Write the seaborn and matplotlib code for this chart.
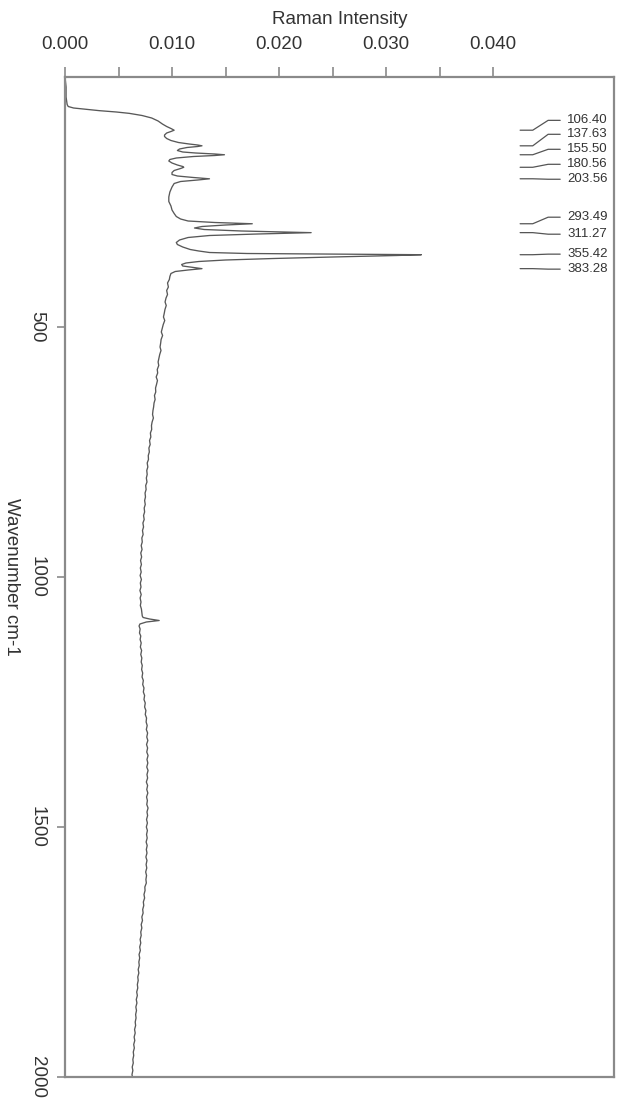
import numpy as np
import pandas as pd
import matplotlib
matplotlib.use("Agg")
import matplotlib.pyplot as plt
import matplotlib.transforms as mtransforms
from matplotlib.ticker import FixedLocator, FormatStrFormatter
import seaborn as sns

# Raman spectrum, lattice/peak region (cm-1, intensity)
wn_low = [
    0, 20, 40, 55, 59, 62, 65, 67.3, 70, 72.7, 77, 82, 88, 94, 99, 103, 106.4,
    109, 112, 116, 119, 123, 127, 131, 134, 136, 137.6, 139, 141, 144, 147,
    150, 152, 154, 155.5, 157, 159, 162, 165, 168, 172, 176, 179, 180.6, 183,
    187, 191, 195, 198, 201, 203.6, 206, 209, 213, 220, 230, 240, 249, 258,
    266, 273, 279, 284, 288, 291, 293.5, 296, 299, 302, 305, 308, 311.3, 314,
    317, 321, 326, 331, 335, 340, 345, 348, 351, 353, 355.4, 357, 360, 363,
    366, 369, 372, 375, 378, 381, 383.3, 386, 389, 393, 399,
]
int_low = [
    0.0000, 0.0001, 0.0001, 0.0002, 0.0003, 0.0008, 0.0022, 0.0032, 0.0048,
    0.0060, 0.0072, 0.0081, 0.0087, 0.0091, 0.0095, 0.0099, 0.0102,
    0.0099, 0.0095, 0.0093, 0.0093, 0.0095, 0.0099, 0.0106, 0.0116, 0.0124,
    0.0128, 0.0124, 0.0114, 0.0107, 0.0105,
    0.0110, 0.0122, 0.0140, 0.0149, 0.0140, 0.0120, 0.0104, 0.0098, 0.0097,
    0.0100, 0.0105, 0.0110, 0.0111, 0.0108,
    0.0102, 0.0100, 0.0100, 0.0105, 0.0120, 0.0135, 0.0124, 0.0108, 0.0102,
    0.0100, 0.0098, 0.0097, 0.0097, 0.0099,
    0.0100, 0.0102, 0.0104, 0.0108, 0.0115, 0.0140, 0.0175, 0.0150, 0.0128,
    0.0121, 0.0130, 0.0165, 0.0230, 0.0180,
    0.0135, 0.0115, 0.0107, 0.0104, 0.0105, 0.0110, 0.0117, 0.0125, 0.0135,
    0.0170, 0.0333, 0.0310, 0.0250, 0.0195,
    0.0150, 0.0125, 0.0113, 0.0109, 0.0110, 0.0120, 0.0128, 0.0115, 0.0103,
    0.0099, 0.0098,
]

# Raman spectrum, high-wavenumber baseline (cm-1, intensity)
wn_high = [
    405, 412, 420, 427, 435, 442, 450, 457, 465, 472, 480, 487, 495, 502,
    510, 517, 525, 532, 540, 547, 555, 562, 570, 577, 585, 592, 600, 607,
    615, 622, 630, 637, 645, 652, 660, 667, 675, 682, 690, 697, 705, 712,
    720, 727, 735, 742, 750, 757, 765, 772, 780, 787, 795, 802, 810, 817,
    825, 832, 840, 847, 855, 862, 870, 877, 885, 892, 900, 907, 915, 922,
    930, 937, 945, 952, 960, 967, 975, 982, 990, 997, 1005, 1012, 1020, 1027,
    1035, 1042, 1050, 1057, 1064, 1072, 1078, 1081, 1084, 1087, 1090, 1094,
    1098, 1104, 1112, 1118, 1125, 1132, 1140, 1147, 1155, 1162, 1170, 1177,
    1185, 1192, 1200, 1207, 1215, 1222, 1230, 1237, 1245, 1252, 1260, 1267,
    1275, 1282, 1290, 1297, 1305, 1312, 1320, 1327, 1335, 1342, 1350, 1357,
    1365, 1372, 1380, 1387, 1395, 1402, 1410, 1417, 1425, 1432, 1440, 1447,
    1455, 1462, 1470, 1477, 1485, 1492, 1500, 1507, 1515, 1522, 1530, 1537,
    1545, 1552, 1560, 1567, 1575, 1582, 1590, 1597, 1605, 1612, 1620, 1627,
    1635, 1642, 1650, 1657, 1665, 1672, 1680, 1687, 1695, 1702, 1710, 1717,
    1725, 1732, 1740, 1747, 1755, 1762, 1770, 1777, 1785, 1792, 1800, 1807,
    1815, 1822, 1830, 1837, 1845, 1852, 1860, 1867, 1875, 1882, 1890, 1897,
    1905, 1912, 1920, 1927, 1935, 1942, 1950, 1957, 1965, 1972, 1980, 1987,
    1995, 2000,
]
int_high = [
    0.00975, 0.00958, 0.00966, 0.00950, 0.00958, 0.00944, 0.00935, 0.00946,
    0.00934, 0.00928, 0.00920, 0.00932, 0.00918, 0.00910, 0.00900, 0.00912,
    0.00898, 0.00894, 0.00888, 0.00897, 0.00885, 0.00878, 0.00870, 0.00876,
    0.00862, 0.00866, 0.00852, 0.00864, 0.00855, 0.00846, 0.00848, 0.00836,
    0.00842, 0.00832, 0.00828, 0.00822, 0.00818, 0.00826, 0.00814, 0.00808,
    0.00810, 0.00798, 0.00802, 0.00790, 0.00796, 0.00784, 0.00788, 0.00778,
    0.00780, 0.00768, 0.00774, 0.00764, 0.00768, 0.00760, 0.00766, 0.00754,
    0.00758, 0.00748, 0.00752, 0.00744, 0.00750, 0.00740, 0.00744, 0.00734,
    0.00740, 0.00728, 0.00734, 0.00724, 0.00730, 0.00718, 0.00722, 0.00712,
    0.00720, 0.00708, 0.00716, 0.00706, 0.00714, 0.00704, 0.00712, 0.00702,
    0.00714, 0.00704, 0.00710, 0.00700, 0.00712, 0.00702, 0.00710, 0.00704,
    0.00714, 0.00718, 0.00722, 0.00730, 0.00790, 0.00880, 0.00760, 0.00700,
    0.00692, 0.00702, 0.00696, 0.00708, 0.00702, 0.00712, 0.00704, 0.00716,
    0.00708, 0.00718, 0.00712, 0.00722, 0.00716, 0.00726, 0.00720, 0.00732,
    0.00726, 0.00738, 0.00732, 0.00744, 0.00738, 0.00750, 0.00744, 0.00756,
    0.00750, 0.00762, 0.00758, 0.00768, 0.00760, 0.00772, 0.00764, 0.00774,
    0.00762, 0.00772, 0.00764, 0.00776, 0.00766, 0.00774, 0.00764, 0.00776,
    0.00766, 0.00772, 0.00760, 0.00772, 0.00764, 0.00774, 0.00762, 0.00770,
    0.00764, 0.00776, 0.00766, 0.00772, 0.00762, 0.00770, 0.00760, 0.00770,
    0.00762, 0.00768, 0.00758, 0.00768, 0.00760, 0.00766, 0.00756, 0.00766,
    0.00758, 0.00764, 0.00754, 0.00762, 0.00756, 0.00760, 0.00746, 0.00748,
    0.00738, 0.00744, 0.00732, 0.00736, 0.00726, 0.00730, 0.00718, 0.00724,
    0.00712, 0.00718, 0.00708, 0.00712, 0.00702, 0.00708, 0.00698, 0.00704,
    0.00692, 0.00698, 0.00690, 0.00694, 0.00684, 0.00690, 0.00680, 0.00684,
    0.00676, 0.00680, 0.00670, 0.00676, 0.00666, 0.00672, 0.00662, 0.00668,
    0.00660, 0.00664, 0.00656, 0.00660, 0.00650, 0.00656, 0.00646, 0.00652,
    0.00642, 0.00648, 0.00638, 0.00642, 0.00634, 0.00638, 0.00628, 0.00634,
    0.00626, 0.00630,
]

# Labelled peak positions and the rows their labels sit on
peak_labels = ["106.40", "137.63", "155.50", "180.56", "203.56",
               "293.49", "311.27", "355.42", "383.28"]
peak_positions = [106.40, 137.63, 155.50, 180.56, 203.56,
                  293.49, 311.27, 355.42, 383.28]
label_rows = [86.7, 114.6, 144.6, 174.6, 204.5, 280.4, 314.4, 354.3, 384.3]

x_major = [0.000, 0.010, 0.020, 0.030, 0.040]
x_minor = [0.005, 0.015, 0.025, 0.035]
y_major = [500, 1000, 1500, 2000]

sns.set_style("white")
plt.rcParams["font.family"] = ["Liberation Sans", "DejaVu Sans"]

fig = plt.figure(figsize=(6.24, 10.98), dpi=100)
ax = fig.add_axes([65 / 624, 21 / 1098, 549 / 624, 1000 / 1098])

df = pd.DataFrame({"intensity": int_low + int_high,
                   "wavenumber": wn_low + wn_high})
sns.lineplot(data=df, x="intensity", y="wavenumber", sort=False,
             estimator=None, color="#585858", linewidth=0.95, ax=ax)

ax.set_xlim(0.0, 0.0513)
ax.set_ylim(2000, 0)

# frame
for side in ["top", "bottom", "left", "right"]:
    ax.spines[side].set_visible(True)
    ax.spines[side].set_color("#8a8a8a")
    ax.spines[side].set_linewidth(1.6)

# intensity axis along the top
ax.xaxis.tick_top()
ax.xaxis.set_label_position("top")
ax.xaxis.set_major_locator(FixedLocator(x_major))
ax.xaxis.set_minor_locator(FixedLocator(x_minor))
ax.xaxis.set_major_formatter(FormatStrFormatter("%.3f"))
ax.tick_params(axis="x", which="both", top=True, bottom=False, direction="out",
               length=7.5, width=1.2, color="#8a8a8a", labelsize=13.5,
               labelcolor="#333333", pad=10)
ax.set_xlabel("Raman Intensity", fontsize=13.5, color="#333333")
ax.xaxis.set_label_coords(0.5, 1.058)
ax.xaxis.label.set_va("center")

# wavenumber axis on the left
ax.yaxis.set_major_locator(FixedLocator(y_major))
ax.tick_params(axis="y", which="both", left=True, right=False, direction="out",
               length=6, width=1.2, color="#8a8a8a", labelsize=13.5,
               labelcolor="#333333", pad=8)
for lbl in ax.get_yticklabels():
    lbl.set_rotation(-90)
    lbl.set_va("center")
ax.set_ylabel("Wavenumber cm-1", fontsize=13.5, color="#333333",
              rotation=-90, rotation_mode="default")
ax.yaxis.label.set_ha("center")
ax.yaxis.label.set_va("center")
ax.yaxis.set_label_coords(-0.098, 0.5)

# peak labels with leader lines
blend = mtransforms.blended_transform_factory(ax.transAxes, ax.transData)
for text, pos, row in zip(peak_labels, peak_positions, label_rows):
    ax.plot([0.829, 0.852, 0.880, 0.902], [pos, pos, row, row],
            transform=blend, color="#555555", linewidth=0.9)
    ax.text(0.915, row, text, transform=blend, fontsize=9.5,
            color="#333333", va="center", ha="left")

fig.savefig("out.png", dpi=100, facecolor="white")
